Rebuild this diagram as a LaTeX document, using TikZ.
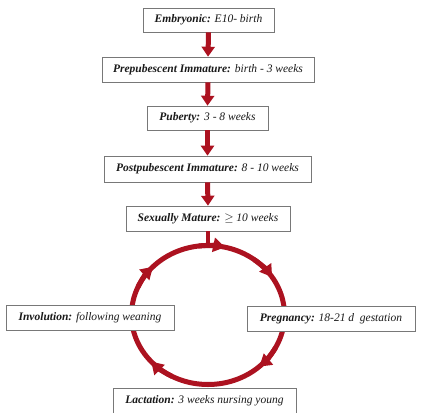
\documentclass[tikz,border=0pt]{standalone}
\usepackage{fontspec}
\setmainfont{Liberation Serif}
\usetikzlibrary{arrows.meta,shadows}
\definecolor{cred}{RGB}{172,18,32}
\definecolor{cframe}{RGB}{120,120,120}
\definecolor{ctext}{RGB}{25,25,25}
\begin{document}
\begin{tikzpicture}[x=1pt,y=-1pt,
  stagebox/.style={draw=cframe, line width=0.6pt, fill=white, text=ctext,
    inner sep=0pt, font=\fontsize{11.5}{13}\selectfont\itshape,
    drop shadow={shadow xshift=1.2pt, shadow yshift=-1.2pt, opacity=0.35, fill=gray}},
  bigarrow/.style={draw=cred, line width=5pt, -{Triangle[width=13pt,length=10pt]}},
  ringline/.style={draw=cred, line width=5pt},
  ringarrow/.style={draw=cred, line width=5pt, -{Triangle[width=14pt,length=12pt]}}
]
\useasboundingbox[fill=white] (0,0) rectangle (441,412);

% ring
\coordinate (rc) at (208,315);
\draw[ringline] (rc) ellipse [x radius=76.5, y radius=69.5];
\foreach \t in {283,327,48,138,224}{
  \draw[ringarrow] (rc) ++(\t-20:76.5 and 69.5)
    arc[start angle=\t-20, end angle=\t, x radius=76.5, y radius=69.5];
}

\node[stagebox, minimum width=131pt, minimum height=24pt] (emb) at (208.5,20)
  {\textbf{Embryonic:} E10- birth};
\node[stagebox, minimum width=212pt, minimum height=25pt] (pre) at (208,69.5)
  {\textbf{Prepubescent Immature:} birth - 3 weeks};
\node[stagebox, minimum width=121pt, minimum height=24pt] (pub) at (207.5,118)
  {\textbf{Puberty:} 3 - 8 weeks};
\node[stagebox, minimum width=207pt, minimum height=26pt] (post) at (207.5,169)
  {\textbf{Postpubescent Immature:} 8 - 10 weeks};
\node[stagebox, minimum width=164pt, minimum height=25pt] (sex) at (208,218.5)
  {\textbf{Sexually Mature:} $\geq$ 10 weeks};
\node[stagebox, minimum width=168pt, minimum height=25pt] (inv) at (90,317.5)
  {\textbf{Involution:} following weaning};
\node[stagebox, minimum width=168pt, minimum height=25pt] (preg) at (331,318.5)
  {\textbf{Pregnancy:} 18-21 d\ \ gestation};
\node[stagebox, minimum width=183pt, minimum height=26pt] (lac) at (204.5,401)
  {\textbf{Lactation:} 3 weeks nursing young};

\coordinate (ringtop) at (208,246);
\draw[bigarrow] (emb.south) -- (pre.north);
\draw[bigarrow] (pre.south) -- (pub.north);
\draw[bigarrow] (pub.south) -- (post.north);
\draw[bigarrow] (post.south) -- (sex.north);
\draw[cred, line width=4pt] (sex.south) -- (ringtop);
\end{tikzpicture}
\end{document}
